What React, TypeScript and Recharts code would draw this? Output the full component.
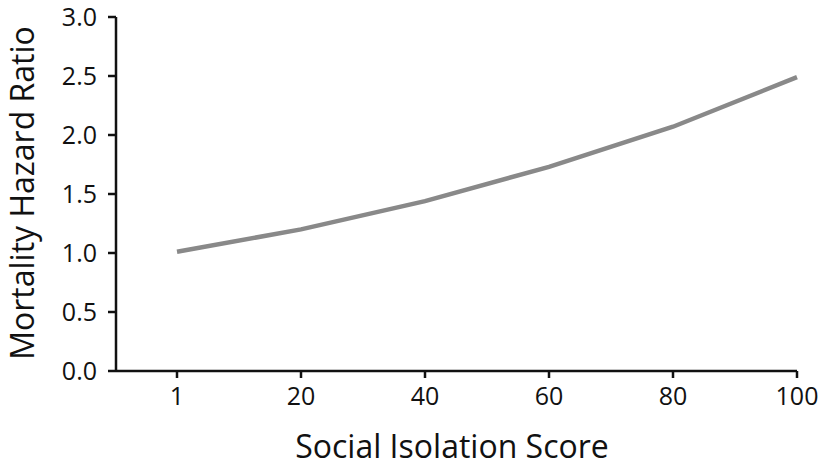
import { LineChart, Line, XAxis, YAxis, Label } from "recharts";

// Social isolation score categories and hazard ratio
const scores = ["1", "20", "40", "60", "80", "100"];
const hazardRatio = [1.01, 1.2, 1.44, 1.73, 2.07, 2.49];
const yTicks = [0, 0.5, 1, 1.5, 2, 2.5, 3];

const data = scores.map((s, i) => ({ score: s, hr: hazardRatio[i] }));

const FONT = "'Open Sans', sans-serif";

export default function App() {
  return (
    <div style={{ position: "absolute", left: 0, top: 0, width: 821, height: 469, background: "#fff" }}>
      <LineChart
        width={821}
        height={469}
        data={data}
        margin={{ top: 17, right: 24, left: 0, bottom: 0 }}
      >
        <XAxis
          dataKey="score"
          height={98}
          padding={{ left: 61, right: 0 }}
          axisLine={{ stroke: "#111", strokeWidth: 2.5 }}
          tickLine={{ stroke: "#111", strokeWidth: 2.5 }}
          tickSize={7}
          tickMargin={9}
          tick={{ fill: "#111", fontSize: 25, fontFamily: FONT }}
          interval={0}
        >
          <Label
            content={() => (
              <text
                x={452}
                y={458}
                textAnchor="middle"
                fill="#111"
                fontSize={32}
                fontFamily={FONT}
              >
                Social Isolation Score
              </text>
            )}
          />
        </XAxis>
        <YAxis
          width={116}
          domain={[0, 3]}
          ticks={yTicks}
          interval={0}
          tickFormatter={(v: number) => v.toFixed(1)}
          axisLine={{ stroke: "#111", strokeWidth: 2.5 }}
          tickLine={{ stroke: "#111", strokeWidth: 2.5 }}
          tickSize={8}
          tickMargin={11}
          tick={{ fill: "#111", fontSize: 25, fontFamily: FONT }}
        >
          <Label
            content={() => (
              <text
                x={34}
                y={193}
                textAnchor="middle"
                fill="#111"
                fontSize={32}
                fontFamily={FONT}
                transform="rotate(-90 34 193)"
              >
                Mortality Hazard Ratio
              </text>
            )}
          />
        </YAxis>
        <Line
          type="linear"
          dataKey="hr"
          stroke="#898989"
          strokeWidth={4.5}
          dot={false}
          isAnimationActive={false}
        />
      </LineChart>
    </div>
  );
}
